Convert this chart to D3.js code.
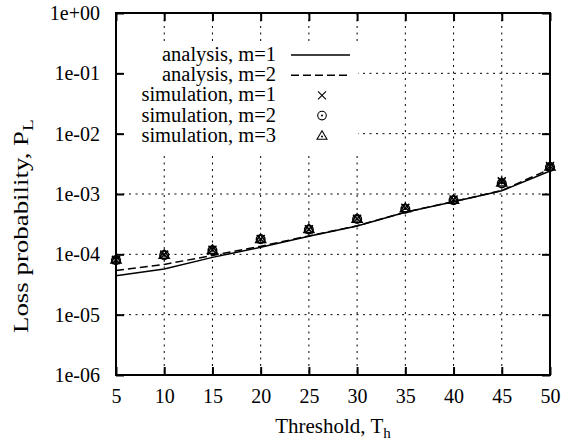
<!DOCTYPE html>
<html>
<head>
<meta charset="utf-8">
<script src="https://cdn.jsdelivr.net/npm/d3@7"></script>
<style>
  body { margin: 0; background: #fff; }
  text { font-family: "Liberation Serif", "Times New Roman", serif; fill: #000; }
</style>
</head>
<body>
<svg id="chart" width="562" height="441"></svg>
<script>
// data
const thresholds = [5, 10, 15, 20, 25, 30, 35, 40, 45, 50];
const analysisM1 = [4.4e-5, 5.7e-5, 8.9e-5, 1.31e-4, 2.0e-4, 2.95e-4, 5.0e-4, 7.45e-4, 1.13e-3, 2.4e-3];
const analysisM2 = [5.4e-5, 6.8e-5, 9.6e-5, 1.36e-4, 2.02e-4, 2.97e-4, 5.0e-4, 7.5e-4, 1.14e-3, 2.6e-3];
const simM1 = [8.1e-5, 9.9e-5, 1.19e-4, 1.8e-4, 2.6e-4, 3.9e-4, 5.9e-4, 8.1e-4, 1.62e-3, 2.9e-3];
const simM2 = [8.0e-5, 9.7e-5, 1.17e-4, 1.78e-4, 2.58e-4, 3.85e-4, 5.7e-4, 7.9e-4, 1.5e-3, 2.8e-3];
const simM3 = [8.2e-5, 9.8e-5, 1.18e-4, 1.79e-4, 2.62e-4, 3.88e-4, 5.8e-4, 8.0e-4, 1.55e-3, 2.85e-3];
const xTicks = [5, 10, 15, 20, 25, 30, 35, 40, 45, 50];
const yTicks = [1e-6, 1e-5, 1e-4, 1e-3, 1e-2, 1e-1, 1];

const legendItems = [
  { label: 'analysis, m=1', kind: 'line', dash: null },
  { label: 'analysis, m=2', kind: 'line', dash: '8,4' },
  { label: 'simulation, m=1', kind: 'cross' },
  { label: 'simulation, m=2', kind: 'circle' },
  { label: 'simulation, m=3', kind: 'triangle' }
];

const plot = { left: 116, right: 550, top: 13, bottom: 375 };
const serif = '"Liberation Serif", "Times New Roman", serif';
const svg = d3.select('#chart');

const x = d3.scaleLinear([5, 50], [plot.left, plot.right]);
const y = d3.scaleLog([1e-6, 1], [plot.bottom, plot.top]);

const fmtExp = (d) => {
  const e = Math.round(Math.log10(d));
  return '1e' + (e < 0 ? '-' : '+') + String(Math.abs(e)).padStart(2, '0');
};

// grid
const grid = svg.append('g').attr('class', 'grid')
  .attr('stroke', '#000').attr('stroke-width', 1).attr('stroke-dasharray', '2,4.5');
grid.selectAll('.gx').data(xTicks.slice(1, -1)).join('line')
  .attr('x1', (d) => x(d)).attr('x2', (d) => x(d))
  .attr('y1', plot.top).attr('y2', plot.bottom);
grid.selectAll('.gy').data(yTicks.slice(1, -1)).join('line')
  .attr('x1', plot.left).attr('x2', plot.right)
  .attr('y1', (d) => y(d)).attr('y2', (d) => y(d));

// legend backing hides grid
svg.append('rect')
  .attr('x', plot.left + 1).attr('y', 43)
  .attr('width', 241).attr('height', 112)
  .attr('fill', '#fff');

// axes
const tick = 8;
const axisB = svg.append('g').attr('transform', `translate(0,${plot.bottom})`)
  .call(d3.axisBottom(x).tickValues(xTicks).tickSizeInner(-tick).tickSizeOuter(0).tickPadding(14));
const axisT = svg.append('g').attr('transform', `translate(0,${plot.top})`)
  .call(d3.axisTop(x).tickValues(xTicks).tickSizeInner(-tick).tickSizeOuter(0).tickFormat(''));
const axisL = svg.append('g').attr('transform', `translate(${plot.left},0)`)
  .call(d3.axisLeft(y).tickValues(yTicks).tickSizeInner(-tick).tickSizeOuter(0).tickPadding(16).tickFormat(fmtExp));
const axisR = svg.append('g').attr('transform', `translate(${plot.right},0)`)
  .call(d3.axisRight(y).tickValues(yTicks).tickSizeInner(-tick).tickSizeOuter(0).tickFormat(''));

[axisB, axisT, axisL, axisR].forEach((g) => {
  g.select('.domain').remove();
  g.selectAll('.tick line').attr('stroke', '#000').attr('stroke-width', 2);
  g.selectAll('.tick text')
    .style('font-family', serif)
    .style('font-size', '20px').attr('fill', '#000');
});

svg.append('rect')
  .attr('x', plot.left).attr('y', plot.top)
  .attr('width', plot.right - plot.left).attr('height', plot.bottom - plot.top)
  .attr('fill', 'none').attr('stroke', '#000').attr('stroke-width', 2);

// analysis lines
const line = d3.line().x((d) => x(d[0])).y((d) => y(d[1]));
const lines = [
  { values: analysisM1, dash: null },
  { values: analysisM2, dash: '8,4' }
];
lines.forEach((s) => {
  svg.append('path')
    .datum(thresholds.map((t, i) => [t, s.values[i]]))
    .attr('d', line)
    .attr('fill', 'none').attr('stroke', '#000').attr('stroke-width', 1.5)
    .attr('stroke-dasharray', s.dash);
});

// marker drawing
const drawMarker = (g, kind, cx, cy) => {
  if (kind === 'cross') {
    g.append('path')
      .attr('d', `M${cx - 4},${cy - 4}L${cx + 4},${cy + 4}M${cx - 4},${cy + 4}L${cx + 4},${cy - 4}`)
      .attr('stroke', '#000').attr('stroke-width', 1.5).attr('fill', 'none');
  } else if (kind === 'circle') {
    g.append('circle').attr('cx', cx).attr('cy', cy).attr('r', 4.3)
      .attr('stroke', '#000').attr('stroke-width', 1.5).attr('fill', 'none');
    g.append('circle').attr('cx', cx).attr('cy', cy).attr('r', 1).attr('fill', '#000');
  } else if (kind === 'triangle') {
    g.append('path')
      .attr('d', `M${cx},${cy - 5}L${cx + 5},${cy + 3.5}L${cx - 5},${cy + 3.5}Z`)
      .attr('stroke', '#000').attr('stroke-width', 1.5).attr('fill', 'none');
    g.append('circle').attr('cx', cx).attr('cy', cy + 0.8).attr('r', 1).attr('fill', '#000');
  }
};

const sims = [
  { values: simM1, kind: 'cross' },
  { values: simM2, kind: 'circle' },
  { values: simM3, kind: 'triangle' }
];
const markers = svg.append('g').attr('class', 'markers');
sims.forEach((s) => {
  thresholds.forEach((t, i) => drawMarker(markers, s.kind, x(t), y(s.values[i])));
});

// legend
const legend = svg.append('g').attr('class', 'legend');
legendItems.forEach((d, i) => {
  const base = 61 + i * 20.2;
  legend.append('text')
    .attr('x', 276).attr('y', base)
    .attr('text-anchor', 'end')
    .style('font-size', '20.5px')
    .text(d.label);
  const cy = base - 6;
  if (d.kind === 'line') {
    legend.append('line')
      .attr('x1', 291).attr('x2', 350).attr('y1', cy).attr('y2', cy)
      .attr('stroke', '#000').attr('stroke-width', 1.5)
      .attr('stroke-dasharray', d.dash);
  } else {
    const lg = legend.append('g');
    drawMarker(lg, d.kind, 322, cy);
    lg.selectAll('path, circle').attr('stroke-width', 1.1);
  }
});

// axis titles
const xTitle = svg.append('text')
  .attr('x', (plot.left + plot.right) / 2).attr('y', 433)
  .attr('text-anchor', 'middle').style('font-size', '21px');
xTitle.append('tspan').text('Threshold, T');
xTitle.append('tspan').attr('dy', 5).style('font-size', '15px').text('h');

// rotated title is stretched along its baseline in the reference
const yTitle = svg.append('text')
  .attr('transform', 'translate(28,333) rotate(-90) scale(1.28,1)')
  .attr('text-anchor', 'start').style('font-size', '21px');
yTitle.append('tspan').text('Loss probability, P');
yTitle.append('tspan').attr('dy', 5).style('font-size', '15px').text('L');
</script>
</body>
</html>
